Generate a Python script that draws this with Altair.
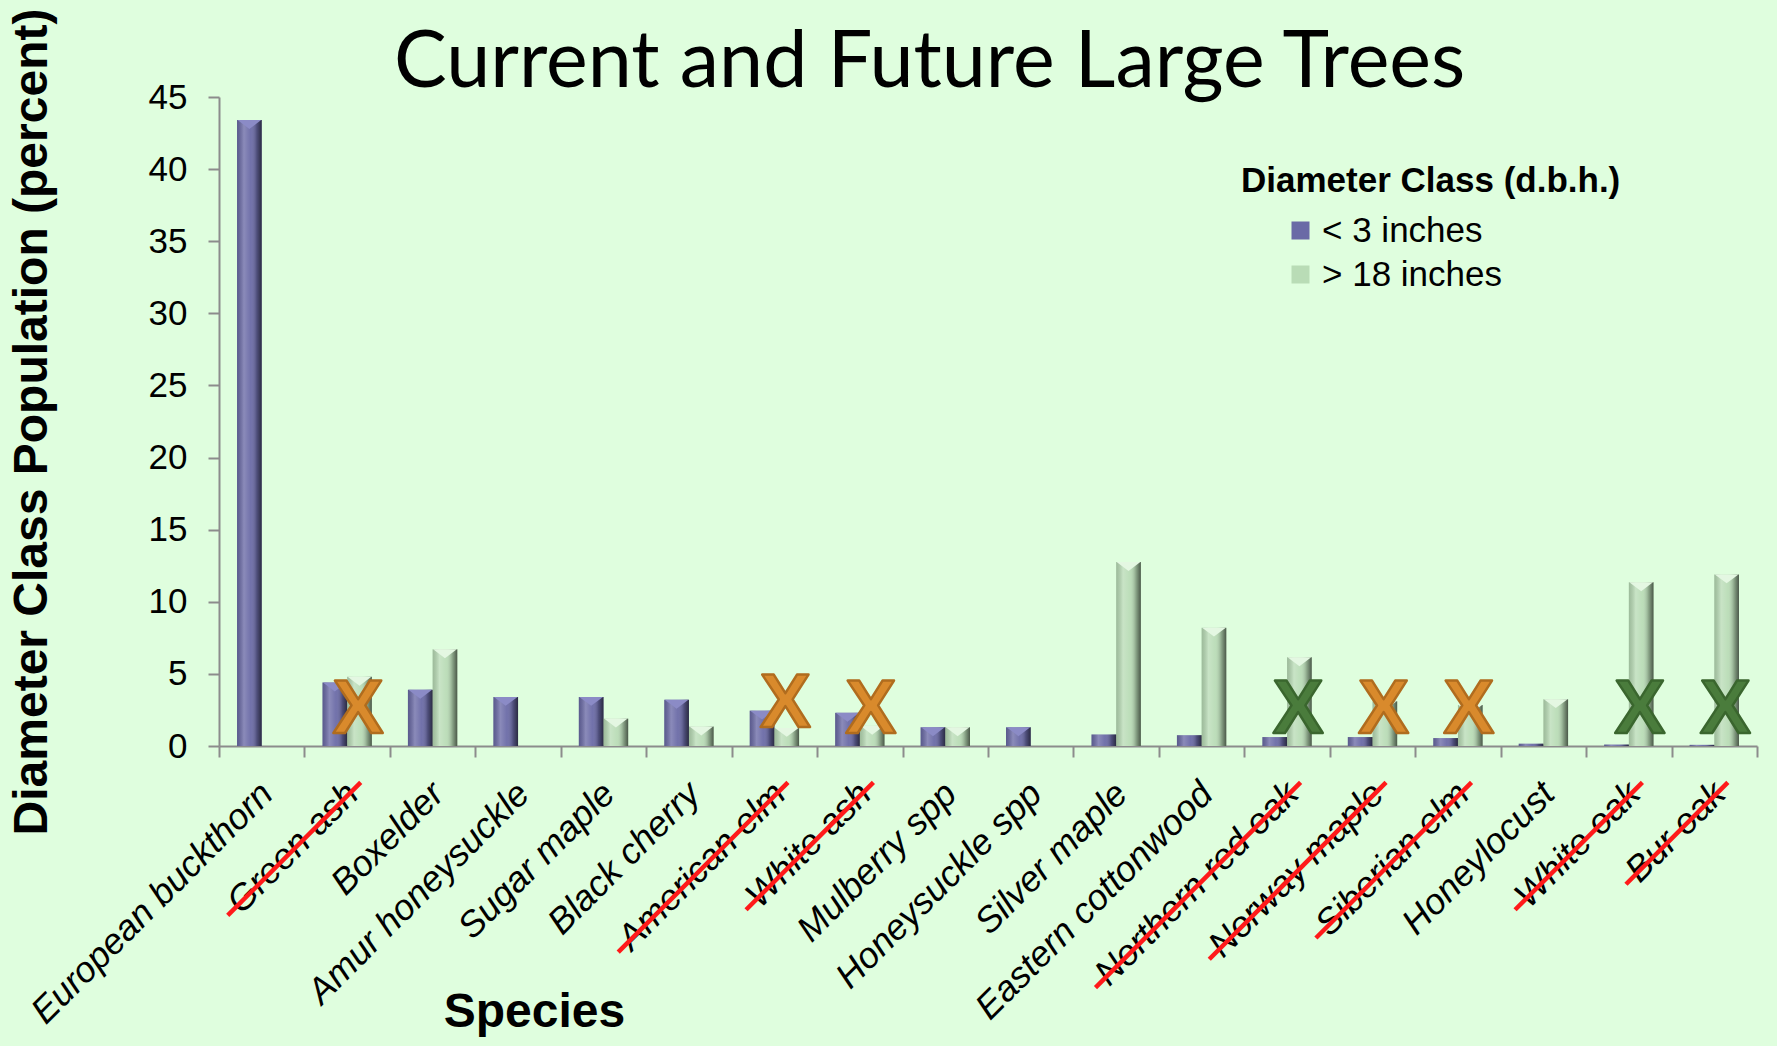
import altair as alt
import pandas as pd

# ---------------- data ----------------
species = [
    "European buckthorn", "Green ash", "Boxelder", "Amur honeysuckle",
    "Sugar maple", "Black cherry", "American elm", "White ash",
    "Mulberry spp", "Honeysuckle spp", "Silver maple", "Eastern cottonwood",
    "Northern red oak", "Norway maple", "Siberian elm", "Honeylocust",
    "White oak", "Bur oak",
]
under_3_in = [43.4, 4.4, 3.9, 3.4, 3.4, 3.2, 2.45, 2.3, 1.3, 1.3,
              0.8, 0.75, 0.62, 0.62, 0.55, 0.16, 0.1, 0.08]
over_18_in = [0.0, 4.8, 6.7, 0.0, 1.9, 1.35, 1.25, 1.4, 1.3, 0.0,
              12.75, 8.2, 6.15, 3.1, 2.85, 3.25, 11.35, 11.9]
series_names = ["< 3 inches", "> 18 inches"]

removed_species = ["Green ash", "American elm", "White ash", "Northern red oak",
                   "Norway maple", "Siberian elm", "White oak", "Bur oak"]
removed_marker = ["orange", "orange", "orange", "green",
                  "orange", "orange", "green", "green"]
marker_level = [2.5, 2.9, 2.5, 2.5, 2.5, 2.5, 2.5, 2.5]

y_ticks = [0, 5, 10, 15, 20, 25, 30, 35, 40, 45]
chart_title = "Current and Future Large Trees"
y_title = "Diameter Class Population (percent)"
x_title = "Species"
legend_title = "Diameter Class (d.b.h.)"

# ---------------- style ----------------
W, H = 1538, 649
BG = "#dffede"
BLUE = "#6a6aa6"
GREEN = "#b9dcb6"
GRAY = "#8c8c8c"
RED = "#ff1a1a"
ORANGE = "#d98a2c"
DKGREEN = "#4a7c3c"
FONT = "Liberation Sans"

LABEL_FS = 36
LABEL_PAD = 19
LABEL_OFF = -7
TICK = 11

# approximate Arial advance widths (em) used to size the strike-through lines
CHAR_W = {" ": .278, "a": .556, "b": .556, "c": .5, "d": .556, "e": .556,
          "f": .278, "g": .556, "h": .556, "i": .222, "k": .5, "l": .222,
          "m": .833, "n": .556, "o": .556, "p": .556, "r": .333, "s": .5,
          "t": .278, "u": .556, "w": .722, "y": .5, "A": .667, "B": .667,
          "G": .778, "N": .722, "S": .667, "W": .944}


def text_px(s, fs):
    return sum(CHAR_W.get(ch, .556) for ch in s) * fs


rows = []
for s, a, b in zip(species, under_3_in, over_18_in):
    rows.append({"species": s, "series": series_names[0], "value": a})
    rows.append({"species": s, "series": series_names[1], "value": b})
bars_df = pd.DataFrame(rows)
removed_df = pd.DataFrame({"species": removed_species,
                           "marker": removed_marker,
                           "level": marker_level,
                           "txt": ["X"] * len(removed_species)})

x_axis = alt.Axis(
    title=x_title, tickBand="extent", tickSize=TICK, tickWidth=2, tickColor=GRAY,
    domainColor=GRAY, domainWidth=2, labelAngle=-45, labelAlign="right",
    labelBaseline="top", labelFont=FONT, labelFontStyle="italic",
    labelFontSize=LABEL_FS, labelPadding=LABEL_PAD, labelOffset=LABEL_OFF,
    labelOverlap=False, labelLimit=0, labelColor="black", titleFont=FONT,
    titleFontSize=48, titleFontWeight="bold", titleColor="black",
    titleX=315, titleY=280, titleAlign="center", titleBaseline="alphabetic",
)
x_enc = alt.X("species:N", sort=species,
              scale=alt.Scale(type="band", paddingInner=0, paddingOuter=0),
              axis=x_axis)
x_plain = alt.X("species:N", sort=species)
xoff = alt.XOffset("series:N", sort=series_names,
                   scale=alt.Scale(paddingInner=0, paddingOuter=0.73))
y_enc = alt.Y(
    "value:Q", scale=alt.Scale(domain=[0, 45], nice=False, zero=True),
    axis=alt.Axis(
        values=y_ticks, grid=False, tickSize=TICK, tickWidth=2, tickColor=GRAY,
        domainColor=GRAY, domainWidth=2, labelFont=FONT, labelFontSize=35,
        labelColor="black", labelPadding=21, title=y_title, titleFont=FONT,
        titleFontSize=48, titleFontWeight="bold", titleColor="black",
        titleAngle=270, titleX=-173, titleY=324.5, titleAlign="center",
        titleBaseline="alphabetic",
    ),
)
y_plain = alt.Y("value:Q")

base = alt.Chart(bars_df)

bars = base.mark_bar().encode(
    x=x_enc, xOffset=xoff, y=y_enc,
    color=alt.Color(
        "series:N", sort=series_names,
        scale=alt.Scale(domain=series_names, range=[BLUE, GREEN]),
        legend=alt.Legend(
            title=legend_title, orient="none", legendX=1022, legendY=67,
            titleFont=FONT, titleFontSize=35, titleFontWeight="bold",
            titleColor="black", titlePadding=14, titleLimit=0,
            labelFont=FONT, labelFontSize=35, labelColor="black", labelLimit=0,
            symbolType="square", symbolSize=324, symbolOffset=42,
            symbolStrokeWidth=0, labelOffset=4, rowPadding=8,
        ),
    ),
)

shade = alt.Gradient(
    gradient="linear", x1=0, x2=1, y1=0, y2=0,
    stops=[
        alt.GradientStop(color="rgba(0,0,0,0.15)", offset=0),
        alt.GradientStop(color="rgba(255,255,255,0.22)", offset=0.28),
        alt.GradientStop(color="rgba(255,255,255,0.05)", offset=0.55),
        alt.GradientStop(color="rgba(0,0,0,0.25)", offset=0.8),
        alt.GradientStop(color="rgba(0,0,0,0.6)", offset=1),
    ],
)
shading = base.mark_bar(fill=shade).encode(x=x_plain, xOffset=xoff, y=y_plain)

tri = "M -1 0 L 1 0 L 0 0.75 Z"
bevel_blue = base.transform_filter(
    (alt.datum.series == series_names[0]) & (alt.datum.value >= 1)
).mark_point(shape=tri, filled=True, size=560, color="#8b8bc6", opacity=1,
             strokeWidth=0).encode(x=x_plain, xOffset=xoff, y=y_plain)
bevel_green = base.transform_filter(
    (alt.datum.series == series_names[1]) & (alt.datum.value >= 1)
).mark_point(shape=tri, filled=True, size=560, color="#e4f7e2", opacity=1,
             strokeWidth=0).encode(x=x_plain, xOffset=xoff, y=y_plain)

xmarks = alt.Chart(removed_df).mark_text(
    font=FONT, fontWeight="bold", fontSize=76, baseline="middle",
    align="center", dx=11, strokeWidth=2.5, strokeJoin="round",
).encode(
    x=x_plain,
    y=alt.Y("level:Q"),
    text="txt:N",
    fill=alt.condition(alt.datum.marker == "orange", alt.value(ORANGE), alt.value(DKGREEN)),
    stroke=alt.condition(alt.datum.marker == "orange", alt.value("#b06c1e"), alt.value("#3a662e")),
)

# strike-through lines laid along the rotated tick labels
mid = 0.53 * LABEL_FS * 0.7071
ext = 10 * 0.7071
top_dx = LABEL_OFF + mid + ext
top_dy = H + TICK + LABEL_PAD + mid - ext
strikes = []
for s in removed_species:
    span = (text_px(s, LABEL_FS) + 20) * 0.7071
    strikes.append(
        alt.Chart(removed_df).transform_filter(alt.datum.species == s)
        .mark_rule(color=RED, strokeWidth=4.5, xOffset=top_dx,
                   x2Offset=top_dx - span)
        .encode(x=x_plain, x2=alt.X2("species"),
                y=alt.value(top_dy), y2=alt.value(top_dy + span))
    )

chart = alt.layer(
    bars, shading, bevel_blue, bevel_green, xmarks, *strikes
).properties(
    width=W, height=H,
    padding={"left": 219, "top": 97, "right": 20, "bottom": 300},
    autosize=alt.AutoSizeParams(type="none"),
    background=BG,
    title=alt.TitleParams(
        text=chart_title, font="Lato", fontSize=79, fontWeight="normal",
        color="black", anchor="start", frame="group", dx=175,
        baseline="alphabetic", offset=-158,
    ),
).configure_view(stroke=None)

chart.save("out.html", embed_options={"renderer": "svg", "actions": False})
